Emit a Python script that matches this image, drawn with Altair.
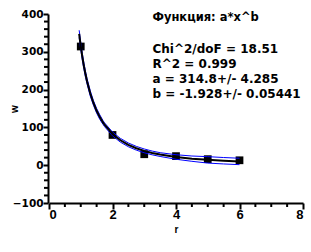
import altair as alt
import pandas as pd

# measured points
r_pts = [1, 2, 3, 4, 5, 6]
w_pts = [314, 80, 29, 24, 16, 13]

# fitted curve a*x^b and its two blue bands
r_fit = [0.95, 0.97, 1.0, 1.05, 1.1, 1.15, 1.2, 1.3, 1.4, 1.5, 1.6, 1.7, 1.75,
         2.0, 2.25, 2.5, 2.75, 3.0, 3.25, 3.5, 4.0, 4.5, 5.0, 5.5, 6.0]
w_fit = [347.5, 333.9, 314.8, 286.5, 261.9, 240.4, 221.5, 189.8, 164.6, 144.0,
         127.2, 113.2, 107.0, 82.7, 65.9, 53.8, 44.8, 37.9, 32.4, 28.1, 21.7,
         17.3, 14.1, 11.8, 9.9]
w_upper = [357.0, 343.9, 323.8, 295.5, 269.9, 248.4, 228.5, 196.8, 170.6, 150.0,
           133.2, 118.2, 112.0, 87.7, 70.9, 58.8, 49.8, 42.9, 37.4, 33.1, 27.7,
           24.3, 22.6, 20.3, 18.4]
w_lower = [338.0, 323.9, 305.8, 277.5, 253.9, 232.4, 214.5, 182.8, 158.6, 138.0,
           121.2, 108.2, 102.0, 77.7, 60.9, 48.8, 39.8, 32.9, 27.4, 23.1, 15.7,
           10.3, 5.6, 3.3, 1.4]

# axis ticks
x_major = [0, 2, 4, 6, 8]
x_minor = [0.5, 1, 1.5, 2.5, 3, 3.5, 4.5, 5, 5.5, 6.5, 7, 7.5]
y_major = [-100, 0, 100, 200, 300, 400]
y_minor = [-80, -60, -40, -20, 20, 40, 60, 80, 120, 140, 160, 180,
           220, 240, 260, 280, 320, 340, 360, 380]

title_text = "Функция: a*x^b"
stat_lines = ["Chi^2/doF = 18.51", "R^2 = 0.999", "a = 314.8+/- 4.285",
              "b = -1.928+/- 0.05441"]

pts = pd.DataFrame({"r": r_pts, "w": w_pts})
curve = pd.DataFrame({"r": r_fit, "fit": w_fit, "upper": w_upper, "lower": w_lower})
xminor_df = pd.DataFrame({"r": x_minor})
yminor_df = pd.DataFrame({"w": y_minor})
one = pd.DataFrame({"k": [0]})

xs = alt.Scale(domain=[0, 8], nice=False, zero=False)
ys = alt.Scale(domain=[-100, 400], nice=False, zero=False)

LBL = "DejaVu Sans"

xaxis = alt.Axis(
    orient="bottom", values=x_major, tickSize=6, tickWidth=2, tickColor="black",
    domainColor="black", domainWidth=2, grid=False,
    labelFont="Liberation Sans Narrow, Liberation Sans", labelFontSize=13,
    labelFontWeight="bold", labelColor="black", labelPadding=-1,
    title="r", titleFont="Liberation Sans", titleFontSize=10,
    titleFontWeight="bold", titleColor="black", titleY=29.5,
    titleBaseline="alphabetic")
yaxis = alt.Axis(
    orient="left", values=y_major, tickSize=5, tickWidth=2, tickColor="black",
    domainColor="black", domainWidth=2, grid=False, offset=1,
    labelFont=LBL, labelFontSize=10.5, labelFontWeight="bold",
    labelColor="black", labelPadding=0,
    title="w", titleFont="Liberation Sans", titleFontSize=10,
    titleFontWeight="bold", titleColor="black", titleX=-34,
    titleBaseline="middle", titleAngle=270)

X = lambda f: alt.X(f, scale=xs, axis=xaxis, title="r")
Y = lambda f: alt.Y(f, scale=ys, axis=yaxis, title="w")

points = alt.Chart(pts).mark_square(size=60, color="black", opacity=1).encode(
    x=X("r:Q"), y=Y("w:Q"))

# minor ticks (outside the plot, like the original's axis comb)
xminor = alt.Chart(xminor_df).mark_rule(color="black", strokeWidth=2).encode(
    x=X("r:Q"), y=alt.value(189), y2=alt.value(193))
yminor = alt.Chart(yminor_df).mark_rule(color="black", strokeWidth=2).encode(
    y=Y("w:Q"), x=alt.value(-5), x2=alt.value(-1))

def line(col, color, width):
    return alt.Chart(curve).mark_line(color=color, strokeWidth=width).encode(
        x=X("r:Q"), y=Y(f"{col}:Q"))

up = line("upper", "#0000ff", 1)
lo = line("lower", "#0000ff", 1)
fit = line("fit", "black", 2)

title_mark = alt.Chart(one).mark_text(
    text=title_text, align="left", baseline="alphabetic", font=LBL,
    fontSize=11.5, fontWeight="bold", color="black"
).encode(x=alt.value(103.5), y=alt.value(7))

stats_mark = alt.Chart(one).mark_text(
    text=stat_lines, align="left", baseline="alphabetic", font=LBL,
    fontSize=12, fontWeight="bold", color="black", lineHeight=15.3
).encode(x=alt.value(103.5), y=alt.value(38.5))

chart = alt.layer(points, xminor, yminor, up, lo, fit, title_mark, stats_mark).properties(
    width=254, height=189,
    autosize=alt.AutoSizeParams(type="none"),
    padding={"left": 49, "top": 14, "right": 8, "bottom": 49},
    background="white",
).configure_view(stroke=None)

chart.save("out.html", embed_options={"renderer": "svg", "actions": False})
